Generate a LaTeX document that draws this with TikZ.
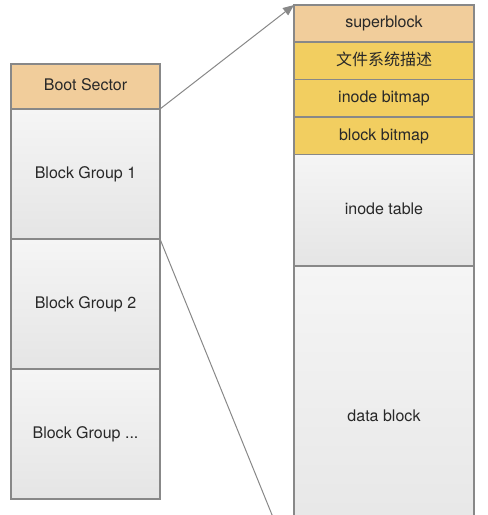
\documentclass[tikz,border=0pt]{standalone}
\usepackage{fontspec}
\setmainfont{TeX Gyre Heros}
\newfontfamily\cjk{Noto Sans CJK SC}
\usetikzlibrary{positioning,arrows.meta}
\definecolor{edge}{RGB}{136,136,136}
\definecolor{orng}{RGB}{241,205,155}
\definecolor{yell}{RGB}{242,206,96}
\definecolor{ink}{RGB}{40,40,40}
\tikzset{
  box/.style={draw=edge,line width=1.5pt,outer sep=0pt,inner sep=0pt,
    text=ink,font=\fontsize{16}{19}\selectfont,
    text height=0.9em,text depth=0.05em},
  hdr/.style={box,fill=orng},
  meta/.style={box,fill=yell},
  grp/.style={box,top color={rgb,255:red,245;green,245;blue,245},
    bottom color={rgb,255:red,229;green,229;blue,229}},
  link/.style={draw=edge,line width=1pt,-{Triangle[length=11pt,width=9pt]}}
}
\begin{document}
\begin{tikzpicture}[x=1pt,y=-1pt]
  \useasboundingbox (0,0) rectangle (488,515);
  \clip (0,0) rectangle (488,515);
  % disk layout
  \node[hdr,minimum width=149,minimum height=45] (boot) at (85.5,86.5) {Boot Sector};
  \node[grp,minimum width=149,minimum height=130,below=0pt of boot] (grpA) {Block Group 1};
  \node[grp,minimum width=149,minimum height=130,below=0pt of grpA] (grpB) {Block Group 2};
  \node[grp,minimum width=149,minimum height=130,below=0pt of grpB] (grpC) {Block Group ...};
  % one block group
  \node[hdr,minimum width=180,minimum height=37] (sblk) at (384,23.5) {superblock};
  \node[meta,minimum width=180,minimum height=37.5,below=0pt of sblk] (fsdesc) {\cjk 文件系统描述};
  \node[meta,minimum width=180,minimum height=37.5,below=0pt of fsdesc] (imap) {inode bitmap};
  \node[meta,minimum width=180,minimum height=37.5,below=0pt of imap] (bmap) {block bitmap};
  \node[grp,minimum width=180,minimum height=111.5,below=0pt of bmap] (itab) {inode table};
  \node[grp,minimum width=180,minimum height=303,below=0pt of itab] (data) {data block};
  \draw[link] (boot.south east) -- (sblk.north west);
  \draw[link] (grpA.south east) -- (data.south west);
\end{tikzpicture}
\end{document}
